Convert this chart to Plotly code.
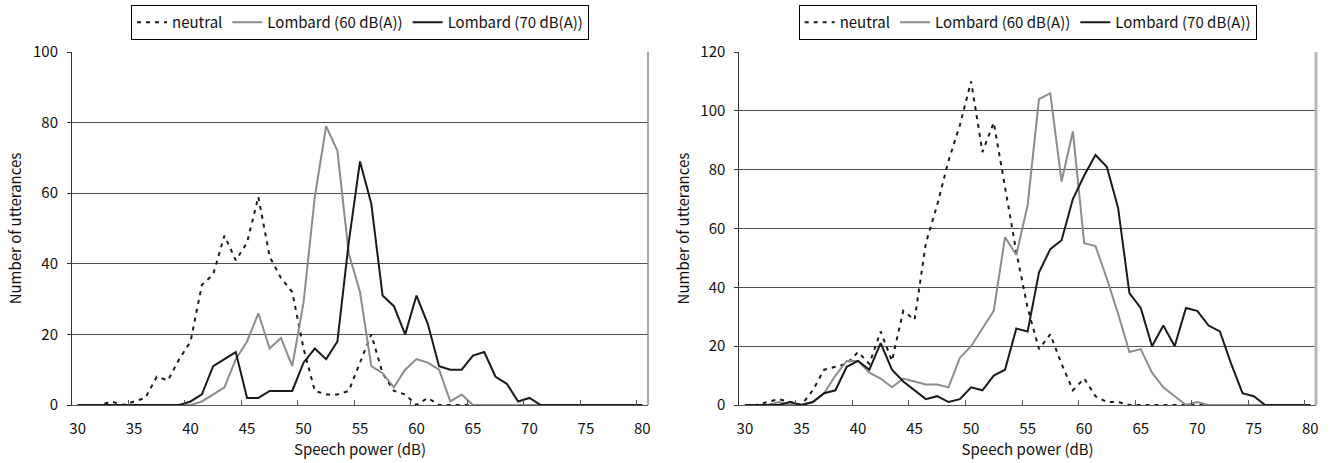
import plotly.graph_objects as go

# Speech power bins (dB), one category per dB
db = list(range(30, 81))
tick_labels = [30, 35, 40, 45, 50, 55, 60, 65, 70, 75, 80]

# Left panel: utterance counts per bin
left_neutral = [0, 0, 0, 1, 0, 1, 2, 8, 7, 13, 18, 34, 37, 48, 41, 46, 59, 42, 36, 32,
                16, 4, 3, 3, 4, 12, 20, 9, 4, 3, 0, 2, 0] + [0] * 18
left_lombard60 = [0] * 10 + [0, 1, 3, 5, 13, 18, 26, 16, 19, 11, 29, 59, 79, 72, 43, 32,
                             11, 9, 5, 10, 13, 12, 10, 1, 3] + [0] * 16
left_lombard70 = [0] * 9 + [0, 1, 3, 11, 13, 15, 2, 2, 4, 4, 4, 12, 16, 13, 18, 46, 69, 57,
                            31, 28, 20, 31, 23, 11, 10, 10, 14, 15, 8, 6, 1, 2] + [0] * 10

# Right panel: utterance counts per bin
right_neutral = [0, 0, 1, 2, 1, 0, 5, 12, 13, 14, 18, 14, 25, 15, 32, 29, 55, 68, 83, 95,
                 110, 86, 96, 74, 52, 33, 19, 24, 14, 5, 9, 3, 1, 1] + [0] * 17
right_lombard60 = [0, 0, 0, 1, 0, 0, 1, 4, 10, 15, 15, 11, 9, 6, 9, 8, 7, 7, 6, 16, 20, 26,
                   32, 57, 51, 68, 104, 106, 76, 93, 55, 54, 43, 31, 18, 19, 11, 6, 3, 0,
                   1] + [0] * 10
right_lombard70 = [0, 0, 0, 0, 1, 0, 1, 4, 5, 13, 15, 12, 21, 12, 8, 5, 2, 3, 1, 2, 6, 5, 10,
                   12, 26, 25, 45, 53, 56, 70, 78, 85, 81, 67, 38, 33, 20, 27, 20, 33, 32,
                   27, 25, 14, 4, 3] + [0] * 5

series_names = ["neutral", "Lombard (60 dB(A))", "Lombard (70 dB(A))"]
FONT = "Noto Sans CJK JP"
BLACK = "#1a1a1a"
GRAY = "#8c8c8c"
GRID = "#505050"

styles = [
    dict(color=BLACK, width=2, dash="4px,5px"),
    dict(color=GRAY, width=2),
    dict(color=BLACK, width=2),
]

fig = go.Figure()

panels = [
    ("x", "y", "legend", [left_neutral, left_lombard60, left_lombard70]),
    ("x2", "y2", "legend2", [right_neutral, right_lombard60, right_lombard70]),
]
for xa, ya, lg, data in panels:
    for name, vals, st in zip(series_names, data, styles):
        fig.add_trace(go.Scatter(
            x=db, y=vals, mode="lines", name=name, line=st,
            xaxis=xa, yaxis=ya, legend=lg, hoverinfo="skip",
        ))

W, H = 1331, 463
ML, MR, MT, MB = 72, 15, 52, 58
plot_w = W - ML - MR


def px_x(p):
    return (p - ML) / plot_w


left_dom = [0.0, px_x(648)]
right_dom = [px_x(739.3), 1.0]

minor_ticks = [v + 4.5 for v in range(30, 80, 5)]

xaxis_common = dict(
    range=[29.5, 80.5],
    tickmode="array", tickvals=tick_labels, ticktext=[str(v) for v in tick_labels],
    ticks="", showgrid=False, zeroline=False,
    showline=True, linecolor="#555555", linewidth=1,
    minor=dict(tickmode="array", tickvals=minor_ticks, ticks="inside",
               ticklen=5, tickcolor="#555555", showgrid=False),
    tickfont=dict(family=FONT, size=15, color="#111"),
    ticklabelstandoff=10,
    title=dict(text="Speech power (dB)", font=dict(family=FONT, size=15, color="#111"),
               standoff=5),
    fixedrange=True,
)
yaxis_common = dict(
    tickmode="linear", tick0=0, dtick=20,
    ticks="outside", ticklen=4, tickcolor="#333",
    showgrid=True, gridcolor=GRID, gridwidth=1,
    zeroline=False, showline=True, linecolor="#333", linewidth=1,
    tickfont=dict(family=FONT, size=15, color="#111"),
    ticklabelstandoff=6,
    title=dict(text="Number of utterances", font=dict(family=FONT, size=15, color="#111"),
               standoff=7),
    fixedrange=True,
)

legend_common = dict(
    orientation="h", xanchor="center", yanchor="top",
    y=1 + (MT - 5) / (H - MT - MB),
    bordercolor="#000", borderwidth=1, bgcolor="white",
    font=dict(family=FONT, size=15, color="#111"),
    itemwidth=30, tracegroupgap=0,
    xref="paper", yref="paper",
)

fig.update_layout(
    width=W, height=H,
    margin=dict(l=ML, r=MR, t=MT, b=MB, autoexpand=False),
    paper_bgcolor="white", plot_bgcolor="white",
    font=dict(family=FONT, size=15, color="#111"),
    xaxis=dict(domain=left_dom, anchor="y", **xaxis_common),
    yaxis=dict(domain=[0, 1], anchor="x", range=[0, 100], **yaxis_common),
    xaxis2=dict(domain=right_dom, anchor="y2", **xaxis_common),
    yaxis2=dict(domain=[0, 1], anchor="x2", range=[0, 120], **yaxis_common),
    legend=dict(x=(left_dom[0] + left_dom[1]) / 2, **legend_common),
    legend2=dict(x=(right_dom[0] + right_dom[1]) / 2, **legend_common),
    shapes=[
        dict(type="line", xref="x domain", yref="y domain", x0=1, x1=1, y0=0, y1=1,
             line=dict(color="#8a8a8a", width=1.5)),
        dict(type="line", xref="x2 domain", yref="y2 domain", x0=1, x1=1, y0=0, y1=1,
             line=dict(color="#b8b8b8", width=3)),
    ],
    showlegend=True,
)

fig.write_html("out.html")
